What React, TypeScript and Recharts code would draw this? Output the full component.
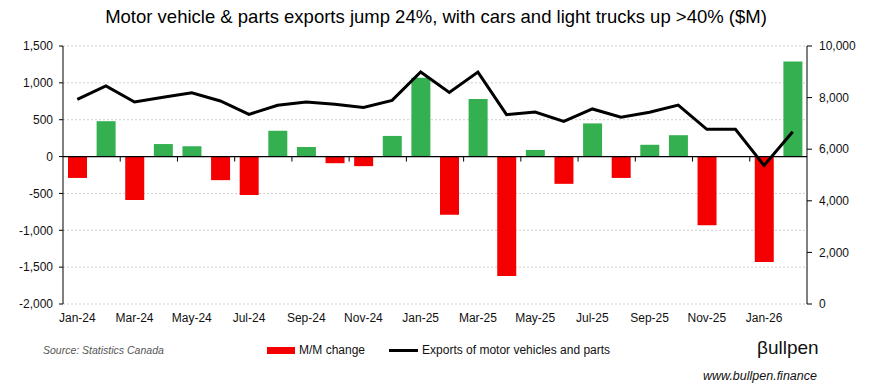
import {
  ComposedChart,
  Bar,
  Line,
  XAxis,
  YAxis,
  CartesianGrid,
  ReferenceLine,
  Cell,
} from "recharts";

const months = [
  "Jan-24", "Feb-24", "Mar-24", "Apr-24", "May-24", "Jun-24", "Jul-24",
  "Aug-24", "Sep-24", "Oct-24", "Nov-24", "Dec-24", "Jan-25", "Feb-25",
  "Mar-25", "Apr-25", "May-25", "Jun-25", "Jul-25", "Aug-25", "Sep-25",
  "Oct-25", "Nov-25", "Dec-25", "Jan-26", "Feb-26",
];

const momChange = [
  -290, 480, -590, 170, 140, -320, -520, 350, 130, -90, -130, 280, 1070,
  -790, 780, -1620, 90, -370, 450, -290, 160, 290, -930, 0, -1430, 1290,
];

const exportsLevel = [
  7930, 8450, 7830, 8010, 8190, 7870, 7350, 7700, 7830, 7740, 7620, 7890,
  8990, 8200, 8990, 7340, 7440, 7080, 7560, 7240, 7430, 7710, 6770, 6770,
  5370, 6680,
];

const leftTicks = [-2000, -1500, -1000, -500, 0, 500, 1000, 1500];
const rightTicks = [0, 2000, 4000, 6000, 8000, 10000];

const data = months.map((m, i) => ({
  month: m,
  change: momChange[i],
  level: exportsLevel[i],
}));

const W = 872;
const H = 392;
const PLOT_TOP = 46;
const PLOT_LEFT = 63;
const PLOT_RIGHT = 807;
const PLOT_BOTTOM = 304;
const BAND = (PLOT_RIGHT - PLOT_LEFT) / months.length;
const ZERO_Y =
  PLOT_TOP + ((1500 - 0) / (1500 - -2000)) * (PLOT_BOTTOM - PLOT_TOP);

const GREEN = "#35B050";
const RED = "#F50000";
const FONT = "'Liberation Sans', Arial, sans-serif";

const fmt = (v: number) => v.toLocaleString("en-US");

const MonthTick = (props: any) => {
  const { x, y, index, payload } = props;
  if (index % 2 !== 0) return null;
  return (
    <g>
      {index > 0 && (
        <line
          x1={x - BAND / 2}
          x2={x - BAND / 2}
          y1={ZERO_Y}
          y2={ZERO_Y + 5}
          stroke="#000"
          strokeWidth={1}
        />
      )}
      <text
        x={x}
        y={y + 10}
        textAnchor="middle"
        fontSize={12}
        fontFamily={FONT}
        fill="#111"
      >
        {payload.value}
      </text>
    </g>
  );
};

const App = () => {
  return (
    <div
      style={{
        position: "absolute",
        left: 0,
        top: 0,
        width: W,
        height: H,
        background: "#fff",
        fontFamily: FONT,
      }}
    >
      <div
        style={{
          position: "absolute",
          top: 6,
          left: 0,
          width: W,
          textAlign: "center",
          fontSize: 18.5,
          color: "#000",
        }}
      >
        Motor vehicle &amp; parts exports jump 24%, with cars and light trucks
        up &gt;40% ($M)
      </div>

      <ComposedChart
        width={W}
        height={H}
        data={data}
        margin={{ top: PLOT_TOP, right: 0, bottom: 58, left: 0 }}
        barCategoryGap={0}
      >
        <CartesianGrid
          yAxisId="left"
          vertical={false}
          stroke="#cfcfcf"
          strokeDasharray="2 2"
        />
        <XAxis
          dataKey="month"
          interval={0}
          axisLine={false}
          tickLine={false}
          tick={<MonthTick />}
          height={30}
        />
        <YAxis
          yAxisId="left"
          domain={[-2000, 1500]}
          ticks={leftTicks}
          tickFormatter={fmt}
          width={PLOT_LEFT}
          tickSize={4}
          tickMargin={6}
          axisLine={{ stroke: "#000" }}
          tickLine={{ stroke: "#000" }}
          tick={{ fontSize: 12, fill: "#111", fontFamily: FONT }}
          allowDataOverflow
        />
        <YAxis
          yAxisId="right"
          orientation="right"
          domain={[0, 10000]}
          ticks={rightTicks}
          tickFormatter={fmt}
          width={W - PLOT_RIGHT}
          tickSize={5}
          tickMargin={7}
          axisLine={{ stroke: "#000" }}
          tickLine={{ stroke: "#000" }}
          tick={{ fontSize: 12, fill: "#111", fontFamily: FONT }}
          allowDataOverflow
        />
        <Bar
          yAxisId="left"
          dataKey="change"
          barSize={19}
          isAnimationActive={false}
        >
          {data.map((d, i) => (
            <Cell key={i} fill={d.change >= 0 ? GREEN : RED} />
          ))}
        </Bar>
        <ReferenceLine yAxisId="left" y={0} stroke="#000" strokeWidth={1.2} />
        <Line
          yAxisId="right"
          dataKey="level"
          stroke="#000"
          strokeWidth={3}
          dot={false}
          type="linear"
          isAnimationActive={false}
        />
      </ComposedChart>

      <div
        style={{
          position: "absolute",
          left: 43,
          top: 344,
          fontSize: 10.5,
          fontStyle: "italic",
          color: "#555",
        }}
      >
        Source: Statistics Canada
      </div>

      <div
        style={{
          position: "absolute",
          left: 267,
          top: 343,
          display: "flex",
          alignItems: "center",
          fontSize: 12,
          color: "#111",
        }}
      >
        <span
          style={{
            display: "inline-block",
            width: 28,
            height: 7,
            background: RED,
            marginRight: 4,
          }}
        />
        <span>M/M change</span>
        <span
          style={{
            display: "inline-block",
            width: 29,
            height: 3,
            background: "#000",
            marginLeft: 24,
            marginRight: 4,
          }}
        />
        <span>Exports of motor vehicles and parts</span>
      </div>

      <div
        style={{
          position: "absolute",
          left: 757,
          top: 337,
          fontSize: 19,
          color: "#111",
        }}
      >
        βullpen
      </div>
      <div
        style={{
          position: "absolute",
          left: 703,
          top: 369,
          fontSize: 12.5,
          fontStyle: "italic",
          color: "#111",
        }}
      >
        www.bullpen.finance
      </div>
    </div>
  );
};

export default App;
